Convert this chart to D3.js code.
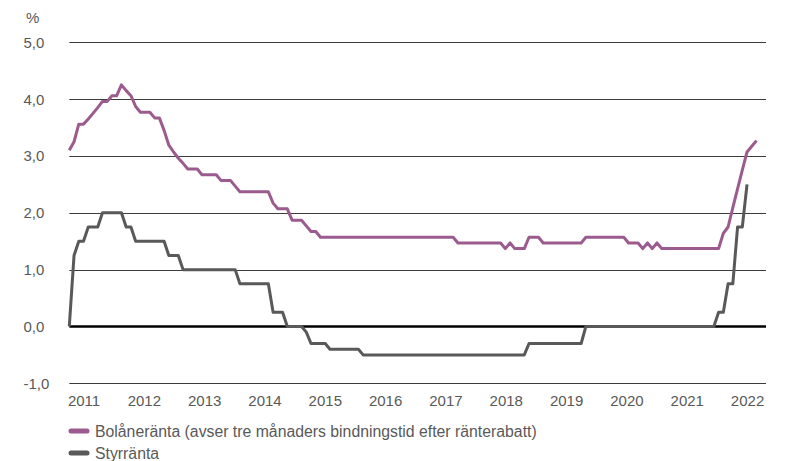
<!DOCTYPE html>
<html><head><meta charset="utf-8">
<script src="https://cdn.jsdelivr.net/npm/d3@7/dist/d3.min.js"></script>
<style>
body{margin:0;background:#fff}
svg{display:block}
text{font-family:"Liberation Sans",Arial,sans-serif}
</style>
</head><body>
<svg id="chart" width="785" height="461"></svg>
<script>
// ---- data ----
const firstMonth = new Date(2010, 11, 1);   // Dec 2010
const lastMonth = new Date(2023, 2, 1);     // Mar 2023 (end of axis)
const yearLabels = ["2011","2012","2013","2014","2015","2016","2017","2018","2019","2020","2021","2022"];
const yTickValues = [-1, 0, 1, 2, 3, 4, 5];
const seriesNames = ["Bolåneränta (avser tre månaders bindningstid efter ränterabatt)", "Styrränta"];

// Bolåneränta, monthly from Dec 2010
const bolanerantaValues = [
  3.10, 3.25, 3.56, 3.56, 3.65, 3.75, 3.85, 3.96, 3.96, 4.06,
  4.06, 4.25, 4.15, 4.06, 3.87, 3.77, 3.77, 3.77, 3.67, 3.67,
  3.45, 3.19, 3.07, 2.96, 2.87, 2.77, 2.77, 2.77, 2.67, 2.67,
  2.67, 2.67, 2.57, 2.57, 2.57, 2.47, 2.37, 2.37, 2.37, 2.37,
  2.37, 2.37, 2.37, 2.17, 2.07, 2.07, 2.07, 1.87, 1.87, 1.87,
  1.77, 1.67, 1.67, 1.57, 1.57, 1.57, 1.57, 1.57, 1.57, 1.57,
  1.57, 1.57, 1.57, 1.57, 1.57, 1.57, 1.57, 1.57, 1.57, 1.57,
  1.57, 1.57, 1.57, 1.57, 1.57, 1.57, 1.57, 1.57, 1.57, 1.57,
  1.57, 1.57, 1.47, 1.47, 1.47, 1.47, 1.47, 1.47, 1.47, 1.47,
  1.47, 1.47, 1.37, 1.47, 1.37, 1.37, 1.37, 1.57, 1.57, 1.57,
  1.47, 1.47, 1.47, 1.47, 1.47, 1.47, 1.47, 1.47, 1.47, 1.57,
  1.57, 1.57, 1.57, 1.57, 1.57, 1.57, 1.57, 1.57, 1.47, 1.47,
  1.47, 1.37, 1.47, 1.37, 1.47, 1.37, 1.37, 1.37, 1.37, 1.37,
  1.37, 1.37, 1.37, 1.37, 1.37, 1.37, 1.37, 1.37, 1.64, 1.75,
  2.09, 2.42, 2.75, 3.07, 3.17, 3.27
];

// Styrränta, monthly from Dec 2010
const styrrantaValues = [
  0.00, 1.25, 1.50, 1.50, 1.75, 1.75, 1.75, 2.00, 2.00, 2.00,
  2.00, 2.00, 1.75, 1.75, 1.50, 1.50, 1.50, 1.50, 1.50, 1.50,
  1.50, 1.25, 1.25, 1.25, 1.00, 1.00, 1.00, 1.00, 1.00, 1.00,
  1.00, 1.00, 1.00, 1.00, 1.00, 1.00, 0.75, 0.75, 0.75, 0.75,
  0.75, 0.75, 0.75, 0.25, 0.25, 0.25, 0.00, 0.00, 0.00, 0.00,
  -0.10, -0.30, -0.30, -0.30, -0.30, -0.40, -0.40, -0.40, -0.40, -0.40,
  -0.40, -0.40, -0.50, -0.50, -0.50, -0.50, -0.50, -0.50, -0.50, -0.50,
  -0.50, -0.50, -0.50, -0.50, -0.50, -0.50, -0.50, -0.50, -0.50, -0.50,
  -0.50, -0.50, -0.50, -0.50, -0.50, -0.50, -0.50, -0.50, -0.50, -0.50,
  -0.50, -0.50, -0.50, -0.50, -0.50, -0.50, -0.50, -0.30, -0.30, -0.30,
  -0.30, -0.30, -0.30, -0.30, -0.30, -0.30, -0.30, -0.30, -0.30, 0.00,
  0.00, 0.00, 0.00, 0.00, 0.00, 0.00, 0.00, 0.00, 0.00, 0.00,
  0.00, 0.00, 0.00, 0.00, 0.00, 0.00, 0.00, 0.00, 0.00, 0.00,
  0.00, 0.00, 0.00, 0.00, 0.00, 0.00, 0.00, 0.25, 0.25, 0.75,
  0.75, 1.75, 1.75, 2.50
];

const seriesColors = ["#9c5b8e", "#595959"];

// ---- layout ----
const svg = d3.select("#chart");
const W = 785, H = 461;
const plotLeft = 69.3, plotRight = 766, plotTop = 42.3, plotBottom = 383.3;
const textColor = "#595959";
const tickFontSize = 15;
const legendFontSize = 15.8;

svg.append("rect").attr("width", W).attr("height", H).attr("fill", "#fff");

const monthKeys = d3.timeMonth.range(firstMonth, d3.timeMonth.offset(lastMonth, 1)).map(d3.timeFormat("%Y-%m"));
const x = d3.scalePoint().domain(monthKeys).range([plotLeft, plotRight]);
const y = d3.scaleLinear().domain([-1, 5]).range([plotBottom, plotTop]);

// year label scale (labels evenly spread along the axis)
const xYear = d3.scalePoint().domain(yearLabels).range([x(monthKeys[3]), x(monthKeys[143])]);

// gridlines
svg.append("g").selectAll("line")
  .data(yTickValues.filter(v => v !== 0))
  .join("line")
  .attr("x1", plotLeft).attr("x2", plotRight)
  .attr("y1", d => Math.round(y(d)) + 0.5).attr("y2", d => Math.round(y(d)) + 0.5)
  .attr("stroke", "#3c3c3c").attr("stroke-width", 1);

// zero line
svg.append("line")
  .attr("x1", plotLeft).attr("x2", plotRight)
  .attr("y1", y(0)).attr("y2", y(0))
  .attr("stroke", "#000").attr("stroke-width", 2.6);

// y axis labels (left aligned as in the reference)
const fmt = v => d3.format(".1f")(v).replace(".", ",").replace("\u2212", "-");
svg.append("g").selectAll("text")
  .data(yTickValues)
  .join("text")
  .attr("x", 23.5).attr("y", d => y(d))
  .attr("dy", "0.36em")
  .attr("text-anchor", "start")
  .attr("font-size", tickFontSize)
  .attr("fill", textColor)
  .text(d => fmt(d));

svg.append("text")
  .attr("x", 26).attr("y", 22.5)
  .attr("font-size", tickFontSize).attr("fill", textColor)
  .text("%");

// x axis labels
const xAxis = d3.axisBottom(xYear).tickSize(0).tickPadding(0);
const gx = svg.append("g").attr("transform", `translate(0, ${plotBottom + 12.5})`).call(xAxis);
gx.select(".domain").remove();
gx.selectAll("text")
  .attr("font-size", tickFontSize)
  .attr("fill", textColor)
  .attr("font-family", '"Liberation Sans",Arial,sans-serif');

// lines
const line = d3.line()
  .x((d, i) => x(monthKeys[i]))
  .y(d => y(d));

svg.append("path")
  .datum(styrrantaValues)
  .attr("d", line)
  .attr("fill", "none")
  .attr("stroke", seriesColors[1])
  .attr("stroke-width", 3)
  .attr("stroke-linejoin", "round");

svg.append("path")
  .datum(bolanerantaValues)
  .attr("d", line)
  .attr("fill", "none")
  .attr("stroke", seriesColors[0])
  .attr("stroke-width", 3)
  .attr("stroke-linejoin", "round");

// legend
const legend = svg.append("g").selectAll("g")
  .data(seriesNames)
  .join("g")
  .attr("transform", (d, i) => `translate(0, ${431 + i * 22})`);
legend.append("line")
  .attr("x1", 71).attr("x2", 87)
  .attr("y1", 0).attr("y2", 0)
  .attr("stroke", (d, i) => seriesColors[i])
  .attr("stroke-width", 5)
  .attr("stroke-linecap", "round");
legend.append("text")
  .attr("x", 95).attr("y", 0).attr("dy", "0.36em")
  .attr("font-size", legendFontSize)
  .attr("fill", textColor)
  .text(d => d);
</script>
</body></html>
